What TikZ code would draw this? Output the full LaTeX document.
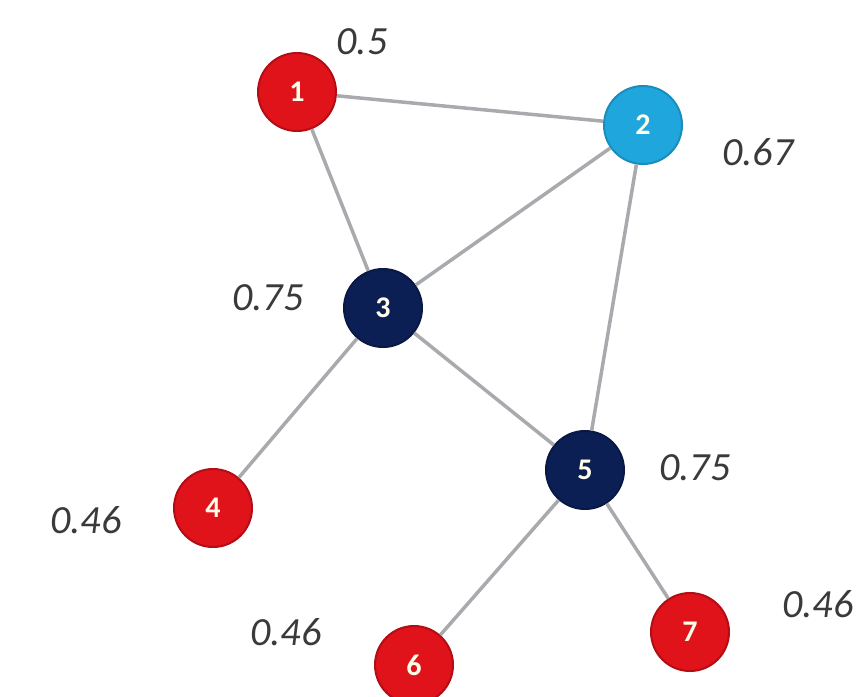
\documentclass[tikz,border=0pt]{standalone}
\usepackage{fontspec}
\setmainfont{Carlito}
\definecolor{nodered}{HTML}{E0121A}
\definecolor{nodecyan}{HTML}{1FA6DD}
\definecolor{nodenavy}{HTML}{0B1F55}
\definecolor{edgegray}{HTML}{A8AAAE}
\definecolor{labelgray}{HTML}{3A3A3A}
\begin{document}
\begin{tikzpicture}[x=1pt,y=-1pt,
  vertex/.style={circle,minimum size=78pt,inner sep=0pt,text=white!92!yellow,
    font=\bfseries\fontsize{30}{32}\selectfont},
  redv/.style={vertex,fill=nodered,draw=nodered!80!black,line width=2pt},
  cyanv/.style={vertex,fill=nodecyan,draw=nodecyan!85!black,line width=2pt},
  navyv/.style={vertex,fill=nodenavy,draw=nodenavy!80!black,line width=2pt},
  edge/.style={draw=edgegray,line width=3.5pt},
  score/.style={text=labelgray,font=\itshape\fontsize{40}{42}\selectfont}]
\clip (0,0) rectangle (866,696);
\fill[white] (0,0) rectangle (866,696);
% vertices
\node[redv]  (n1) at (297,92)  {1};
\node[cyanv] (n2) at (643,125) {2};
\node[navyv] (n3) at (383,308) {3};
\node[redv]  (n4) at (213,508) {4};
\node[navyv] (n5) at (585,470) {5};
\node[redv]  (n6) at (414,665) {6};
\node[redv]  (n7) at (690,632) {7};
% edges
\path[edge] (n1) -- (n2);
\path[edge] (n1) -- (n3);
\path[edge] (n2) -- (n3);
\path[edge] (n2) -- (n5);
\path[edge] (n3) -- (n5);
\path[edge] (n3) -- (n4);
\path[edge] (n5) -- (n6);
\path[edge] (n5) -- (n7);
% scores
\node[score] (s1) at (362,42)  {0.5};
\node[score] (s2) at (758,152) {0.67};
\node[score] (s3) at (268,298) {0.75};
\node[score] (s5) at (695,468) {0.75};
\node[score] (s4) at (86,520)  {0.46};
\node[score] (s6) at (286,632) {0.46};
\node[score] (s7) at (818,604) {0.46};
\end{tikzpicture}
\end{document}
